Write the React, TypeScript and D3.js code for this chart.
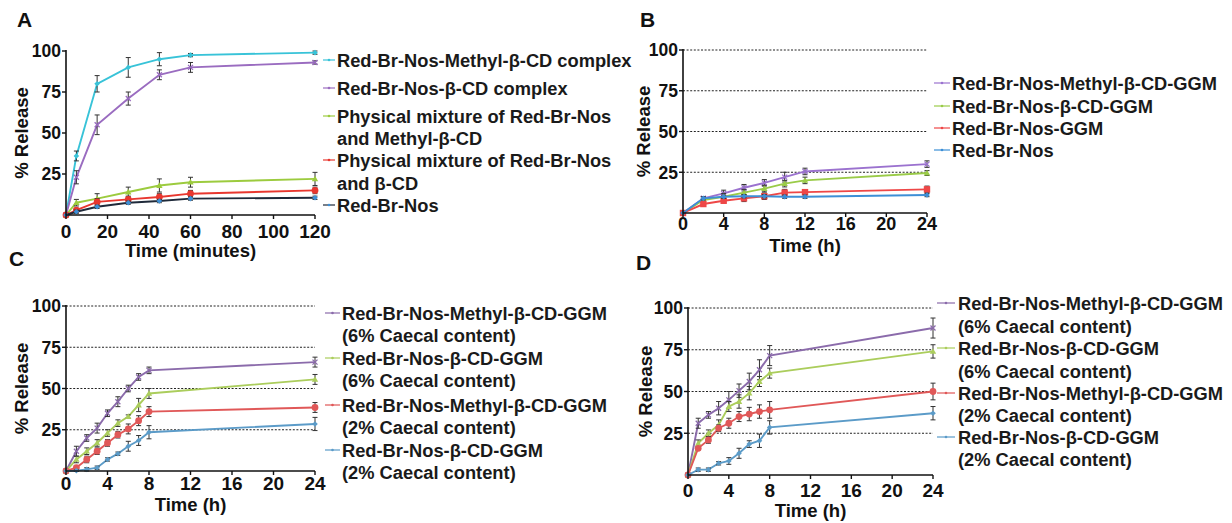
import React from "react";
import * as d3 from "d3";

// ---------- DATA ----------
const timesA = [0, 5, 15, 30, 45, 60, 120];
const seriesA_names = [
  ["Red-Br-Nos-Methyl-β-CD complex"],
  ["Red-Br-Nos-β-CD complex"],
  ["Physical mixture of Red-Br-Nos", "and Methyl-β-CD"],
  ["Physical mixture of Red-Br-Nos", "and β-CD"],
  ["Red-Br-Nos"],
];
const A_methylComplex = [0, 36, 80, 90, 95, 97.5, 99];
const A_methylComplexErr = [0, 3, 5, 6, 4, 1, 1];
const A_cdComplex = [0, 23, 55, 71, 85.5, 90, 93];
const A_cdComplexErr = [0, 4, 6, 4, 3, 3, 1];
const A_physMethyl = [0, 7.5, 10, 14, 18, 20, 22];
const A_physMethylErr = [0, 2, 3, 3, 4, 3, 4];
const A_physCD = [0, 3, 8, 9.5, 11, 13, 15];
const A_physCDErr = [0, 1, 2, 2, 2, 2, 2];
const A_pure = [0, 2, 5, 7.5, 8.5, 10, 10.5];
const A_pureErr = [0, 1, 1, 1, 1, 1, 1];

const timesB = [0, 2, 4, 6, 8, 10, 12, 24];
const seriesB_names = [
  ["Red-Br-Nos-Methyl-β-CD-GGM"],
  ["Red-Br-Nos-β-CD-GGM"],
  ["Red-Br-Nos-GGM"],
  ["Red-Br-Nos"],
];
const B_methylGGM = [0, 9, 12, 15.5, 18.5, 22, 25.5, 30];
const B_methylGGMErr = [0, 1, 2, 2, 2, 3, 2, 2];
const B_cdGGM = [0, 8, 10, 12.5, 15, 18, 20, 24.5];
const B_cdGGMErr = [0, 1, 2, 2, 2, 2, 2, 1.5];
const B_GGM = [0, 5.5, 7.5, 9, 10.3, 12.5, 12.8, 14.5];
const B_GGMErr = [0, 1, 1, 2, 2, 2, 1, 2];
const B_pure = [0, 9, 10, 10.3, 10.3, 10, 10, 11];
const B_pureErr = [0, 1, 1, 1, 1, 1, 1, 1];

const timesCD = [0, 1, 2, 3, 4, 5, 6, 7, 8, 24];
const seriesCD_names = [
  ["Red-Br-Nos-Methyl-β-CD-GGM", "(6% Caecal content)"],
  ["Red-Br-Nos-β-CD-GGM", "(6% Caecal content)"],
  ["Red-Br-Nos-Methyl-β-CD-GGM", "(2% Caecal content)"],
  ["Red-Br-Nos-β-CD-GGM", "(2% Caecal content)"],
];
const C_methyl6 = [0, 12, 20, 26, 35, 42, 50, 57, 61, 66];
const C_methyl6Err = [0, 3, 2, 3, 2, 3, 2, 2, 2, 3];
const C_cd6 = [0, 7, 12, 17, 23, 29, 33, 40, 47, 55.5];
const C_cd6Err = [0, 2, 2, 2, 2, 2, 1, 4, 3, 3];
const C_methyl2 = [0, 2, 7, 12, 17, 22, 25.5, 30.5, 36, 38.5];
const C_methyl2Err = [0, 1, 2, 2, 2, 2, 3, 3, 3, 3];
const C_cd2 = [0, 0.2, 1, 2, 7, 10.5, 15, 18.5, 23.5, 28.5];
const C_cd2Err = [0, 0.5, 1, 1, 1, 1, 3, 3, 4, 4];

const D_methyl6 = [0, 31, 36, 40, 45, 50.5, 56, 63, 71.5, 88];
const D_methyl6Err = [0, 3, 2, 4, 5, 4, 5, 6, 6, 6];
const D_cd6 = [0, 19, 25, 30, 41, 44, 49, 56, 61, 74];
const D_cd6Err = [0, 2, 2, 3, 3, 4, 4, 3, 3, 4];
const D_methyl2 = [0, 16, 21, 28, 31, 35, 36.5, 38, 39, 50];
const D_methyl2Err = [0, 1, 2, 2, 3, 3, 4, 4, 5, 5];
const D_cd2 = [0, 3.2, 3.2, 7, 8.4, 13, 18.5, 20.5, 28.5, 37];
const D_cd2Err = [0, 1, 1, 1, 2, 3, 2, 4, 4, 4];

const xTicksA = [0, 20, 40, 60, 80, 100, 120];
const xTicksH = [0, 4, 8, 12, 16, 20, 24];
const yTicks = [25, 50, 75, 100];

// ---------- STYLE / LAYOUT ----------
const FONT = "'Liberation Sans', Arial, Helvetica, sans-serif";
const colA = ["#38c3d8", "#9a6cc0", "#9ccb3e", "#e8372f", "#1f2a3a"];
const markA = ["#38c3d8", "#9a6cc0", "#9ccb3e", "#e8372f", "#3d8fd6"];
const colB = ["#9b72cf", "#9acb48", "#ee4747", "#3d8fd6"];
const colCD = ["#8b6bab", "#abcd5c", "#e05858", "#5b9bc8"];

type Series = { name: string[]; values: number[]; err: number[]; color: string; marker: string; shape: string };
type Panel = {
  letter: string; lx: number; ly: number;
  left: number; right: number; top: number; bottom: number;
  xMax: number; xTicks: number[]; xs: number[]; grid: boolean;
  xTitle: string; xTitleY: number; xTickY: number; xTickSize: number; yTitleX: number;
  series: Series[];
  legMarkX0: number; legMarkX1: number; legTextX: number; legRows: number[];
};

const mk = (names: string[][], vals: number[][], errs: number[][], cols: string[], marks: string[], shp: string[]): Series[] =>
  names.map((n, i) => ({ name: n, values: vals[i], err: errs[i], color: cols[i], marker: marks[i], shape: shp[i] }));

const panels: Panel[] = [
  {
    letter: "A", lx: 17, ly: 27, left: 66, right: 315, top: 51, bottom: 215,
    xMax: 120, xTicks: xTicksA, xs: timesA, grid: false,
    xTitle: "Time (minutes)", xTitleY: 250, xTickY: 231, xTickSize: 19, yTitleX: 21,
    series: mk(seriesA_names,
      [A_methylComplex, A_cdComplex, A_physMethyl, A_physCD, A_pure],
      [A_methylComplexErr, A_cdComplexErr, A_physMethylErr, A_physCDErr, A_pureErr],
      colA, markA, ["diamond", "cross", "triangle", "circle", "diamond"]),
    legMarkX0: 323, legMarkX1: 335, legTextX: 337, legRows: [60, 88, 116, 138, 160, 183, 205],
  },
  {
    letter: "B", lx: 640, ly: 27, left: 683, right: 927, top: 50, bottom: 213,
    xMax: 24, xTicks: xTicksH, xs: timesB, grid: true,
    xTitle: "Time (h)", xTitleY: 245, xTickY: 224, xTickSize: 18, yTitleX: 643,
    series: mk(seriesB_names,
      [B_methylGGM, B_cdGGM, B_GGM, B_pure],
      [B_methylGGMErr, B_cdGGMErr, B_GGMErr, B_pureErr],
      colB, colB, ["cross", "triangle", "square", "diamond"]),
    legMarkX0: 934, legMarkX1: 950, legTextX: 952, legRows: [83, 106, 128, 150],
  },
  {
    letter: "C", lx: 9, ly: 266, left: 66, right: 315, top: 306, bottom: 471,
    xMax: 24, xTicks: xTicksH, xs: timesCD, grid: true,
    xTitle: "Time (h)", xTitleY: 504, xTickY: 483, xTickSize: 19, yTitleX: 21,
    series: mk(seriesCD_names,
      [C_methyl6, C_cd6, C_methyl2, C_cd2],
      [C_methyl6Err, C_cd6Err, C_methyl2Err, C_cd2Err],
      colCD, colCD, ["cross", "triangle", "circle", "diamond"]),
    legMarkX0: 325, legMarkX1: 340, legTextX: 342, legRows: [313, 335, 358, 380, 405, 427, 450, 472],
  },
  {
    letter: "D", lx: 636, ly: 270, left: 688, right: 933, top: 308, bottom: 475,
    xMax: 24, xTicks: xTicksH, xs: timesCD, grid: true,
    xTitle: "Time (h)", xTitleY: 510, xTickY: 490, xTickSize: 19, yTitleX: 645,
    series: mk(seriesCD_names,
      [D_methyl6, D_cd6, D_methyl2, D_cd2],
      [D_methyl6Err, D_cd6Err, D_methyl2Err, D_cd2Err],
      colCD, colCD, ["cross", "triangle", "circle", "diamond"]),
    legMarkX0: 937, legMarkX1: 955, legTextX: 958, legRows: [303, 326, 348, 371, 393, 415, 437, 459],
  },
];

function Marker({ x, y, shape, color }: { x: number; y: number; shape: string; color: string }) {
  if (shape === "circle") return <circle cx={x} cy={y} r={3.4} fill={color} />;
  if (shape === "square") return <rect x={x - 3.2} y={y - 3.2} width={6.4} height={6.4} fill={color} />;
  if (shape === "triangle") return <path d={`M${x},${y - 3.2}L${x + 3.2},${y + 2.4}L${x - 3.2},${y + 2.4}Z`} fill={color} />;
  if (shape === "cross") return <path d={`M${x - 2.5},${y - 2.5}L${x + 2.5},${y + 2.5}M${x + 2.5},${y - 2.5}L${x - 2.5},${y + 2.5}`} stroke={color} strokeWidth={1.3} />;
  return <path d={`M${x},${y - 2.8}L${x + 2.8},${y}L${x},${y + 2.8}L${x - 2.8},${y}Z`} fill={color} />;
}

function PanelView({ p }: { p: Panel }) {
  const x = d3.scaleLinear().domain([0, p.xMax]).range([p.left, p.right]);
  const y = d3.scaleLinear().domain([0, 100]).range([p.bottom, p.top]);
  const line = d3.line<number>().x((_, i) => x(p.xs[i])).y((v) => y(v));
  const cy = (p.top + p.bottom) / 2;
  let row = 0;
  return (
    <g>
      <text x={p.lx} y={p.ly} fontSize={21} fontWeight="bold" fontFamily={FONT} fill="#111">{p.letter}</text>
      {p.grid && yTicks.map((t) => (
        <line key={"g" + t} x1={p.left} x2={p.right} y1={y(t)} y2={y(t)} stroke="#222" strokeWidth={1} strokeDasharray="2,1.6" />
      ))}
      {p.series.map((s, si) => (
        <g key={"s" + si}>
          <path d={line(s.values) || ""} fill="none" stroke={s.color} strokeWidth={1.9} />
          {s.values.map((v, i) => s.err[i] > 0 ? (
            <g key={"e" + i} stroke="#333" strokeWidth={1}>
              <line x1={x(p.xs[i])} x2={x(p.xs[i])} y1={y(v - s.err[i])} y2={y(v + s.err[i])} />
              <line x1={x(p.xs[i]) - 2.5} x2={x(p.xs[i]) + 2.5} y1={y(v + s.err[i])} y2={y(v + s.err[i])} />
              <line x1={x(p.xs[i]) - 2.5} x2={x(p.xs[i]) + 2.5} y1={y(v - s.err[i])} y2={y(v - s.err[i])} />
            </g>
          ) : null)}
          {s.values.map((v, i) => (
            <Marker key={"m" + i} x={x(p.xs[i])} y={y(v)} shape={s.shape} color={s.marker} />
          ))}
        </g>
      ))}
      <line x1={p.left} x2={p.left} y1={p.bottom} y2={p.top - 1} stroke="#111" strokeWidth={1.6} />
      <line x1={p.left} x2={p.right} y1={p.bottom} y2={p.bottom} stroke="#111" strokeWidth={1.6} />
      {yTicks.map((t) => (
        <g key={"yt" + t}>
          <line x1={p.left - 4} x2={p.left} y1={y(t)} y2={y(t)} stroke="#111" strokeWidth={1.4} />
          <text x={p.left - 5} y={y(t)} dy="0.36em" textAnchor="end" fontSize={17.5} fontWeight="bold" fontFamily={FONT} fill="#111">{t}</text>
        </g>
      ))}
      {p.xTicks.map((t) => (
        <g key={"xt" + t}>
          <line x1={x(t)} x2={x(t)} y1={p.bottom} y2={p.bottom + 4} stroke="#111" strokeWidth={1.4} />
          <text x={x(t)} y={p.xTickY} dy="0.36em" textAnchor="middle" fontSize={p.xTickSize} fontWeight="bold" fontFamily={FONT} fill="#111">{t}</text>
        </g>
      ))}
      <text x={(p.left + p.right) / 2} y={p.xTitleY} dy="0.36em" textAnchor="middle" fontSize={18.5} fontWeight="bold" fontFamily={FONT} fill="#111">{p.xTitle}</text>
      <text transform={`translate(${p.yTitleX},${cy}) rotate(-90)`} textAnchor="middle" dy="0.36em" fontSize={18.5} fontWeight="bold" fontFamily={FONT} fill="#111">% Release</text>
      {p.series.map((s, si) => {
        const r0 = row;
        row += s.name.length;
        const ly0 = p.legRows[r0];
        return (
          <g key={"l" + si}>
            <line x1={p.legMarkX0} x2={p.legMarkX1} y1={ly0} y2={ly0} stroke={s.color} strokeWidth={1.2} />
            <circle cx={(p.legMarkX0 + p.legMarkX1) / 2} cy={ly0} r={1.3} fill={s.marker} />
            {s.name.map((nm, k) => (
              <text key={k} x={p.legTextX} y={p.legRows[r0 + k]} dy="0.36em" fontSize={18.3} fontWeight="bold" fontFamily={FONT} fill="#1a1a1a">{nm}</text>
            ))}
          </g>
        );
      })}
    </g>
  );
}

export default function App() {
  return (
    <svg width={1232} height={523} style={{ position: "absolute", left: 0, top: 0, background: "#fff" }}>
      <rect width={1232} height={523} fill="#fff" />
      {panels.map((p) => <PanelView key={p.letter} p={p} />)}
    </svg>
  );
}
